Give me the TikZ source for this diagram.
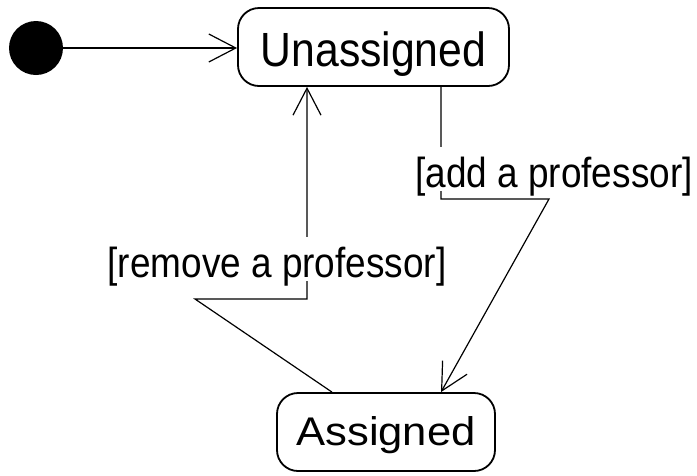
\documentclass[tikz,border=0pt]{standalone}
\usepackage{fontspec}
\setmainfont{Liberation Sans}
\usetikzlibrary{arrows.meta}
\begin{document}
\begin{tikzpicture}[x=1pt, y=-1pt,
  statebox/.style={draw, line width=1.8pt, rounded corners=21pt, inner sep=0pt},
  conn/.style={line width=1.2pt, -{Straight Barb[length=27pt, width=28pt, line width=1.2pt]}},
  guard/.style={fill=white, inner sep=0pt, text height=40pt, text depth=4pt, anchor=base,
    font=\fontsize{42}{46}\selectfont},
  initial/.style={circle, fill=black, minimum size=54pt, inner sep=0pt}]
  \useasboundingbox (0,0) rectangle (697,475);

  % states
  \node[initial] (init) at (36,48) {};
  \node[statebox, minimum width=271pt, minimum height=78pt, text height=39pt, text depth=0pt,
    font=\fontsize{48}{52}\selectfont] (U) at (373.5,47) {\scalebox{0.89}[1]{Unassigned}};
  \node[statebox, minimum width=218pt, minimum height=78pt, text height=28pt, text depth=2pt,
    font=\fontsize{40}{44}\selectfont] (A) at (386,432) {\scalebox{1.09}[1]{Assigned}};

  % bend points of the transitions
  \coordinate (a1) at (441,199);
  \coordinate (a2) at (549,199);
  \coordinate (r0) at (332,0);
  \coordinate (r1) at (195,299);
  \coordinate (r2) at (307,299);

  % transitions
  \draw[conn] (init) -- (init -| U.west);
  \draw[conn] (U.south -| a1) -- (a1) -- (a2) -- (A.north -| a1);
  \draw[conn] (A.north -| r0) -- (r1) -- (r2) -- (U.south -| r2);

  % guards
  \node[guard] (addg) at (554,187) {\scalebox{0.88}[1]{[add a professor]}};
  \node[guard] (remg) at (277,277) {\scalebox{0.88}[1]{[remove a professor]}};
\end{tikzpicture}
\end{document}
